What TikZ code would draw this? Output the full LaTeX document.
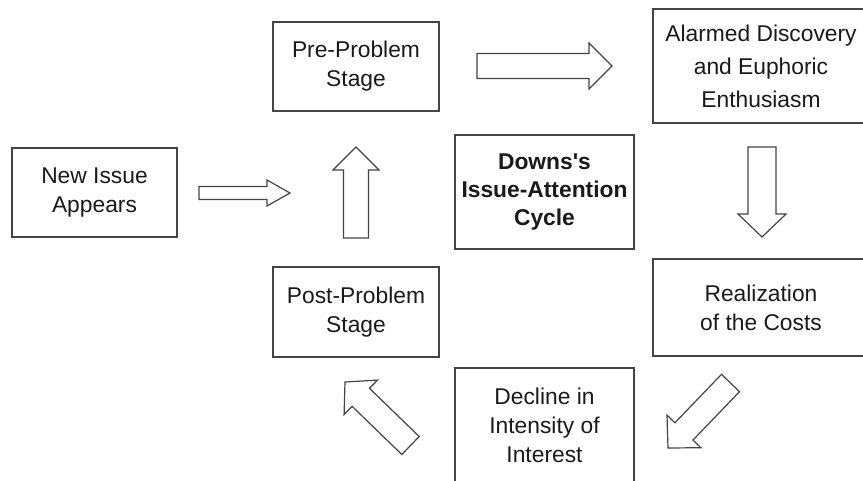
\documentclass[tikz,border=0pt]{standalone}
\usepackage{fontspec}
\setmainfont{Liberation Sans}
\usepackage{xcolor}
\usetikzlibrary{calc}

\definecolor{linegray}{HTML}{444444}
\definecolor{textgray}{HTML}{1A1A1A}

% hollow block arrow: tail, tip, half shaft, half head, head length
\newcommand{\blockarrow}[5]{%
	\draw[arrowshape] ($(#1)!#3!90:(#2)$) -- ($($(#2)!#5!(#1)$)!#3!90:(#2)$)
	-- ($($(#2)!#5!(#1)$)!#4!90:(#2)$) -- (#2)
	-- ($($(#2)!#5!(#1)$)!#4!-90:(#2)$) -- ($($(#2)!#5!(#1)$)!#3!-90:(#2)$)
	-- ($(#1)!#3!-90:(#2)$) -- cycle;}

\begin{document}
\begin{tikzpicture}[x=1pt,y=-1pt,
		stagebox/.style={draw=linegray,line width=1.3pt,fill=white,align=center,
			text=textgray,inner sep=0pt,font=\fontsize{22.8}{29}\selectfont},
		arrowshape/.style={draw=linegray,line width=1.2pt,fill=white,line join=miter}]
			
			%--- Khung ---
			\clip (0,0) rectangle (863,480);
			\fill[white] (0,0) rectangle (863,480);
			
			%--- Các giai đoạn ---
			\node[stagebox,minimum width=165,minimum height=89] (newissue) at (94.5,192.5) {New Issue\\Appears};
			\node[stagebox,minimum width=166,minimum height=89] (pre) at (356,66.5) {Pre-Problem\\Stage};
			\node[stagebox,minimum width=216,minimum height=114,
				font=\fontsize{22.8}{33}\selectfont] (alarmed) at (761,66) {Alarmed Discovery\\and Euphoric\\Enthusiasm};
			\node[stagebox,minimum width=179,minimum height=114,
				font=\fontsize{22.8}{28}\selectfont\bfseries] (downs) at (544.5,192) {Downs\textquotesingle s\\Issue-Attention\\Cycle};
			\node[stagebox,minimum width=216,minimum height=97] (realization) at (761,307.5) {Realization\\of the Costs};
			\node[stagebox,minimum width=166,minimum height=90] (post) at (356,312) {Post-Problem\\Stage};
			\node[stagebox,minimum width=179,minimum height=114] (decline) at (544.5,425) {Decline in\\Intensity of\\Interest};
			
			%--- Đầu và cuối mũi tên ---
			\coordinate (newtail) at (199,193);    \coordinate (newtip) at (290,193);
			\coordinate (pretail) at (356,238);    \coordinate (pretip) at (356,147);
			\coordinate (alarmtail) at (477,66);   \coordinate (alarmtip) at (612,66);
			\coordinate (realtail) at (762,147);   \coordinate (realtip) at (762,237);
			\coordinate (decltail) at (730.5,383); \coordinate (decltip) at (668,448);
			\coordinate (posttail) at (410.5,445.5); \coordinate (posttip) at (345,382);
			
			%--- Mũi tên ---
			\blockarrow{newtail}{newtip}{6.5pt}{13pt}{23pt}
			\blockarrow{pretail}{pretip}{12.5pt}{23pt}{23pt}
			\blockarrow{alarmtail}{alarmtip}{12.5pt}{23pt}{23pt}
			\blockarrow{realtail}{realtip}{14pt}{24pt}{23pt}
			\blockarrow{decltail}{decltip}{12.5pt}{23.5pt}{23pt}
			\blockarrow{posttail}{posttip}{12.5pt}{24pt}{22pt}
			
		\end{tikzpicture}
\end{document}
